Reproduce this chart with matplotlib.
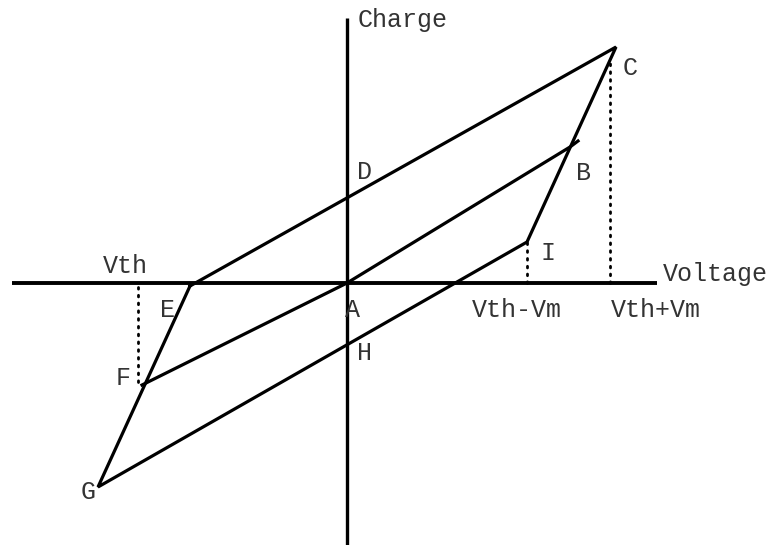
#!/usr/bin/env python

import numpy as np
import matplotlib.pyplot as plt

# ----------------------------------------------------------------------
# data (voltage / charge, arbitrary units, origin at A)
# ----------------------------------------------------------------------

# outer loop E -> C -> I -> G -> E
loop_v = [-157, 269, 180, -249, -157]
loop_q = [-3, 236, 41, -204, -3]

# middle line F -> A -> B
mid_v = [-205, 0, 223, 231]
mid_q = [-102, 0, 136, 142]

# thresholds on the voltage axis
vth = -209
vth_minus_vm = 180
vth_plus_vm = 263
q_f = -104
q_i = 41
q_c = 225

v_range = [-335, 310]
q_range = [-262, 265]

# ----------------------------------------------------------------------
# Main code
# ----------------------------------------------------------------------

if __name__ == "__main__":

    plt.rcParams['font.family'] = ['Liberation Mono', 'DejaVu Sans Mono']

    fig = plt.figure(figsize = (7.77, 5.45), dpi = 100)
    ax = fig.add_axes([0, 0, 1, 1])
    ax.set_xlim(-347, 430)
    ax.set_ylim(-262, 283)
    ax.axis('off')

    # axes:
    ax.plot(v_range, [0, 0], color = 'k', lw = 2.8, solid_capstyle = 'butt')
    ax.plot([0, 0], q_range, color = 'k', lw = 2.4, solid_capstyle = 'butt')

    # loop and middle line:
    ax.plot(loop_v, loop_q, color = 'k', lw = 2.3, solid_joinstyle = 'miter')
    ax.plot(mid_v, mid_q, color = 'k', lw = 2.3)

    # dotted guides:
    dot = dict(color = 'k', lw = 2.0, linestyle = (0, (0.6, 2.2)),
               dash_capstyle = 'round')
    ax.plot([vth, vth], [-4, q_f], **dot)
    ax.plot([vth_minus_vm, vth_minus_vm], [0, q_i], **dot)
    ax.plot([vth_plus_vm, vth_plus_vm], [0, q_c], **dot)

    tcol = '#333333'
    fs = 18
    ax.text(11, 263, 'Charge', ha = 'left', va = 'center', fontsize = fs, color = tcol)
    ax.text(316, 9, 'Voltage', ha = 'left', va = 'center', fontsize = fs, color = tcol)
    ax.text(-222, 17, 'Vth', ha = 'center', va = 'center', fontsize = fs, color = tcol)
    ax.text(170, -27, 'Vth-Vm', ha = 'center', va = 'center', fontsize = fs, color = tcol)
    ax.text(309, -27, 'Vth+Vm', ha = 'center', va = 'center', fontsize = fs, color = tcol)

    labels = ['A', 'B', 'C', 'D', 'E', 'F', 'G', 'H', 'I']
    lab_v = [6, 236, 283, 18, -179, -224, -259, 18, 201]
    lab_q = [-27, 110, 215, 111, -27, -95, -209, -70, 30]
    for s, v, q in zip(labels, lab_v, lab_q):
        ax.text(v, q, s, ha = 'center', va = 'center', fontsize = fs, color = tcol)

    plotfile = 'out.png'
    print('writing : ', plotfile)
    fig.savefig(plotfile, dpi = 100)
    plt.close()
